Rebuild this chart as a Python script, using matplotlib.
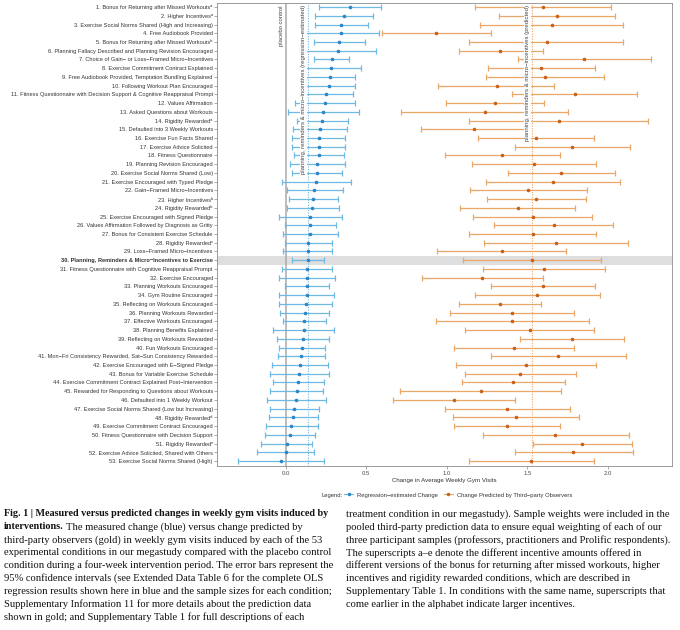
import matplotlib
matplotlib.use('Agg')
import matplotlib.pyplot as plt
from matplotlib.lines import Line2D
import numpy as np

plt.rcParams['font.family'] = ['Liberation Sans', 'DejaVu Sans']

labels = [
    '1. Bonus for Returning after Missed Workouts\u1d43',
    '2. Higher Incentives\u1d43',
    '3. Exercise Social Norms Shared (High and Increasing)',
    '4. Free Audiobook Provided',
    '5. Bonus for Returning after Missed Workouts\u1d47',
    '6. Planning Fallacy Described and Planning Revision Encouraged',
    '7. Choice of Gain\u2212 or Loss\u2212Framed Micro\u2212Incentives',
    '8. Exercise Commitment Contract Explained',
    '9. Free Audiobook Provided, Temptation Bundling Explained',
    '10. Following Workout Plan Encouraged',
    '11. Fitness Questionnaire with Decision Support & Cognitive Reappraisal Prompt',
    '12. Values Affirmation',
    '13. Asked Questions about Workouts',
    '14. Rigidity Rewarded\u1d43',
    '15. Defaulted into 3 Weekly Workouts',
    '16. Exercise Fun Facts Shared',
    '17. Exercise Advice Solicited',
    '18. Fitness Questionnaire',
    '19. Planning Revision Encouraged',
    '20. Exercise Social Norms Shared (Low)',
    '21. Exercise Encouraged with Typed Pledge',
    '22. Gain\u2212Framed Micro\u2212Incentives',
    '23. Higher Incentives\u1d47',
    '24. Rigidity Rewarded\u1d47',
    '25. Exercise Encouraged with Signed Pledge',
    '26. Values Affirmation Followed by Diagnosis as Gritty',
    '27. Bonus for Consistent Exercise Schedule',
    '28. Rigidity Rewarded\u1d9c',
    '29. Loss\u2212Framed Micro\u2212Incentives',
    '30. Planning, Reminders & Micro\u2212Incentives to Exercise',
    '31. Fitness Questionnaire with Cognitive Reappraisal Prompt',
    '32. Exercise Encouraged',
    '33. Planning Workouts Encouraged',
    '34. Gym Routine Encouraged',
    '35. Reflecting on Workouts Encouraged',
    '36. Planning Workouts Rewarded',
    '37. Effective Workouts Encouraged',
    '38. Planning Benefits Explained',
    '39. Reflecting on Workouts Rewarded',
    '40. Fun Workouts Encouraged',
    '41. Mon\u2212Fri Consistency Rewarded, Sat\u2212Sun Consistency Rewarded',
    '42. Exercise Encouraged with E\u2212Signed Pledge',
    '43. Bonus for Variable Exercise Schedule',
    '44. Exercise Commitment Contract Explained Post\u2212Intervention',
    '45. Rewarded for Responding to Questions about Workouts',
    '46. Defaulted into 1 Weekly Workout',
    '47. Exercise Social Norms Shared (Low but Increasing)',
    '48. Rigidity Rewarded\u1d48',
    '49. Exercise Commitment Contract Encouraged',
    '50. Fitness Questionnaire with Decision Support',
    '51. Rigidity Rewarded\u1d49',
    '52. Exercise Advice Solicited, Shared with Others',
    '53. Exercise Social Norms Shared (High)',
]

# regression-estimated change (blue)
blue_est = [0.40, 0.364, 0.344, 0.344, 0.333, 0.323, 0.284, 0.278, 0.276, 0.265,
            0.251, 0.243, 0.233, 0.226, 0.21, 0.206, 0.204, 0.204, 0.193, 0.191,
            0.189, 0.177, 0.171, 0.165, 0.152, 0.150, 0.148, 0.138, 0.138, 0.136,
            0.132, 0.132, 0.13, 0.128, 0.122, 0.117, 0.111, 0.111, 0.107, 0.099,
            0.095, 0.086, 0.08, 0.074, 0.066, 0.062, 0.049, 0.045, 0.033, 0.023,
            0.004, 0.002, -0.031]
blue_lo = [0.206, 0.183, 0.183, 0.108, 0.177, 0.086, 0.175, 0.09, 0.124, 0.10,
           0.086, 0.056, 0.014, 0.07, 0.045, 0.041, 0.041, 0.049, 0.025, 0.041,
           -0.023, 0.004, 0.019, 0.004, -0.041, -0.006, -0.02, -0.006, -0.016, 0.039,
           -0.023, -0.041, -0.008, -0.041, -0.041, -0.035, -0.02, -0.078, -0.054, -0.041,
           -0.051, -0.085, -0.101, -0.082, -0.097, -0.119, -0.101, -0.105, -0.125, -0.132,
           -0.156, -0.177, -0.30]
blue_hi = [0.593, 0.543, 0.508, 0.580, 0.492, 0.56, 0.389, 0.465, 0.428, 0.428,
           0.416, 0.428, 0.453, 0.383, 0.379, 0.370, 0.37, 0.36, 0.366, 0.346,
           0.403, 0.354, 0.325, 0.329, 0.35, 0.313, 0.323, 0.288, 0.288, 0.235,
           0.288, 0.307, 0.268, 0.298, 0.286, 0.268, 0.247, 0.298, 0.268, 0.243,
           0.243, 0.263, 0.268, 0.235, 0.233, 0.247, 0.206, 0.2, 0.198, 0.183,
           0.165, 0.177, 0.239]

# change predicted by third-party observers (gold)
pred_est = [1.597, 1.685, 1.654, 0.932, 1.62, 1.333, 1.854, 1.588, 1.609, 1.309,
            1.794, 1.30, 1.235, 1.696, 1.167, 1.551, 1.78, 1.342, 1.541, 1.71,
            1.658, 1.506, 1.556, 1.44, 1.533, 1.665, 1.533, 1.677, 1.342, 1.527,
            1.603, 1.22, 1.599, 1.56, 1.333, 1.405, 1.405, 1.519, 1.78, 1.415,
            1.693, 1.49, 1.457, 1.412, 1.21, 1.043, 1.372, 1.43, 1.375, 1.675,
            1.84, 1.786, 1.525]
pred_lo = [1.173, 1.325, 1.204, 0.595, 1.14, 1.078, 1.44, 1.255, 1.245, 0.946,
           1.407, 0.992, 0.714, 1.14, 0.837, 1.191, 1.424, 0.988, 1.156, 1.377,
           1.245, 1.144, 1.251, 1.084, 1.165, 1.296, 1.14, 1.233, 0.94, 1.099,
           1.222, 0.848, 1.274, 1.173, 1.078, 1.021, 0.934, 1.115, 1.457, 1.047,
           1.276, 1.054, 1.113, 1.093, 0.71, 0.667, 0.986, 1.039, 1.043, 1.222,
           1.535, 1.424, 1.14]
pred_hi = [2.02, 2.045, 2.097, 1.274, 2.097, 1.595, 2.27, 1.92, 1.977, 1.665,
           2.179, 1.605, 1.755, 2.25, 1.497, 1.916, 2.138, 1.70, 1.928, 2.043,
           2.076, 1.872, 1.864, 1.796, 1.899, 2.035, 1.928, 2.123, 1.743, 1.955,
           1.983, 1.595, 1.92, 1.949, 1.588, 1.788, 1.881, 1.916, 2.101, 1.788,
           2.113, 1.928, 1.805, 1.733, 1.708, 1.424, 1.763, 1.819, 1.706, 2.132,
           2.15, 2.156, 1.912]

xticks = [0.0, 0.5, 1.0, 1.5, 2.0]
highlight = 30

blue_light = '#6db9e3'
blue_dark = '#2c86c8'
gold_light = '#eaa868'
gold_dark = '#c6621c'

fig = plt.figure(figsize=(6.8, 6.3), dpi=100)
ax = fig.add_axes([0.319, 0.2603, 0.669, 0.7349])

rows = np.arange(1, len(labels) + 1)
b = np.array(blue_est)
p = np.array(pred_est)

ax.axhspan(highlight - 0.5, highlight + 0.5, color='#dedede', lw=0, zorder=0)
ax.axvline(0, color='#a9a9a9', lw=1.1, zorder=1)
ax.axvline(b[highlight - 1], color=blue_light, lw=0.8, ls=(0, (1, 1.3)), zorder=1)
ax.axvline(p[highlight - 1], color=gold_light, lw=0.8, ls=(0, (1, 1.3)), zorder=1)

ax.errorbar(b, rows, xerr=[b - np.array(blue_lo), np.array(blue_hi) - b],
            fmt='o', ms=1.6, color=blue_dark, ecolor=blue_light,
            elinewidth=0.9, capsize=1.9, capthick=0.9, zorder=2)
ax.errorbar(p, rows, xerr=[p - np.array(pred_lo), np.array(pred_hi) - p],
            fmt='o', ms=1.6, color=gold_dark, ecolor=gold_light,
            elinewidth=0.9, capsize=1.9, capthick=0.9, zorder=2)

box = dict(fc='white', ec='none', pad=0.6)
ax.annotate('placebo control', xy=(0, 0.54), xytext=(-1.2, -1.5),
            textcoords='offset points', rotation=90, ha='right', va='top',
            fontsize=4.3, color='#444444', bbox=box, zorder=5)
ax.annotate('planning, reminders & micro\u2212incentives (regression\u2212estimated)',
            xy=(b[highlight - 1], 0.54), xytext=(-1.2, -1.5),
            textcoords='offset points', rotation=90, ha='right', va='top',
            fontsize=4.3, color='#444444', bbox=box, zorder=5)
ax.annotate('planning, reminders & micro\u2212incentives (predicted)',
            xy=(p[highlight - 1], 0.54), xytext=(-1.2, -1.5),
            textcoords='offset points', rotation=90, ha='right', va='top',
            fontsize=4.3, color='#444444', bbox=box, zorder=5)

ax.set_xlim(-0.4286, 2.398)
ax.set_ylim(53.57, 0.54)
ax.set_yticks(rows)
ax.set_yticklabels(labels, fontsize=4.1, color='#333333')
ax.get_yticklabels()[highlight - 1].set_fontweight('bold')
ax.set_xticks(xticks)
ax.set_xticklabels(['%.1f' % v for v in xticks], fontsize=4.3, color='#4d4d4d')
ax.tick_params(axis='y', length=2, width=0.5, color='#888888', pad=1)
ax.tick_params(axis='x', length=2, width=0.5, color='#888888', pad=1.5)
ax.set_xlabel('Change in Average Weekly Gym Visits', fontsize=4.4, color='#333333', labelpad=1.5)
for s in ax.spines.values():
    s.set_color('#8c8c8c')
    s.set_linewidth(0.6)

# legend row
ly = 1 - 495 / 630
fig.text(322 / 680, ly, 'Legend:', fontsize=4.2, va='center', ha='left', color='#333333')
handles = [Line2D([], [], color=blue_light, lw=0.8, marker='o', ms=1.5, mfc=blue_dark, mec=blue_dark),
           Line2D([], [], color=gold_light, lw=0.8, marker='o', ms=1.5, mfc=gold_dark, mec=gold_dark)]
fig.legend(handles, ['Regression\u2212estimated Change', 'Change Predicted by Third\u2212party Observers'],
           loc='center left', bbox_to_anchor=(344 / 680, ly), ncol=2, frameon=False,
           fontsize=4.2, handlelength=1.6, handletextpad=0.7, columnspacing=0.9,
           borderpad=0, borderaxespad=0, labelcolor='#333333')

# caption
cap_font = ['Liberation Serif', 'DejaVu Serif']
cs = 7.6
y0 = 514
dy = 12.9
W, H = 680, 630

left_lines = [
    'Fig. 1 | Measured versus predicted changes in weekly gym visits induced by',
    'interventions.',
    'third-party observers (gold) in weekly gym visits induced by each of the 53',
    'experimental conditions in our megastudy compared with the placebo control',
    'condition during a four-week intervention period. The error bars represent the',
    '95% confidence intervals (see Extended Data Table 6 for the complete OLS',
    'regression results shown here in blue and the sample sizes for each condition;',
    'Supplementary Information 11 for more details about the prediction data',
    'shown in gold; and Supplementary Table 1 for full descriptions of each',
]
right_lines = [
    'treatment condition in our megastudy). Sample weights were included in the',
    'pooled third-party prediction data to ensure equal weighting of each of our',
    'three participant samples (professors, practitioners and Prolific respondents).',
    'The superscripts a\u2013e denote the different incentive amounts offered in',
    'different versions of the bonus for returning after missed workouts, higher',
    'incentives and rigidity rewarded conditions, which are described in',
    'Supplementary Table 1. In conditions with the same name, superscripts that',
    'come earlier in the alphabet indicate larger incentives.',
]

texts = []
for i, line in enumerate(left_lines):
    wt = 'bold' if i < 2 else 'normal'
    sz = cs - 0.3 if i < 2 else cs
    t = fig.text(4 / W, 1 - (y0 + i * dy) / H, line, fontsize=sz, family=cap_font,
                 weight=wt, va='center', ha='left', color='#111111')
    texts.append(t)
for i, line in enumerate(right_lines):
    fig.text(346 / W, 1 - (y0 + i * dy) / H, line, fontsize=cs, family=cap_font,
             va='center', ha='left', color='#111111')

fig.canvas.draw()
r = fig.canvas.get_renderer()
bb = texts[1].get_window_extent(renderer=r)
fig.text((bb.x1 + 2.5) / W, 1 - (y0 + dy) / H,
         'The measured change (blue) versus change predicted by',
         fontsize=cs, family=cap_font, va='center', ha='left', color='#111111')

fig.savefig('out.png', dpi=100)
